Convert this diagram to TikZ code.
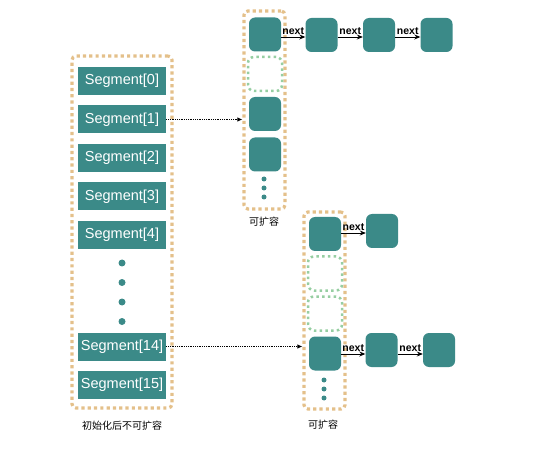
\documentclass[tikz,border=0pt]{standalone}
\usepackage{fontspec}
\setmainfont{Liberation Sans}
\newfontfamily\cjk{Noto Sans CJK SC}
\usetikzlibrary{arrows.meta}
\definecolor{tealc}{RGB}{59,138,136}
\definecolor{tanc}{RGB}{228,192,138}
\definecolor{greenc}{RGB}{150,206,162}
\begin{document}
\begin{tikzpicture}[x=1pt,y=-1pt,
 seg/.style={fill=tealc, text=white, minimum width=88pt, minimum height=28pt, inner sep=0pt, font=\fontsize{14.5}{14.5}\selectfont},
 bkt/.style={fill=tealc, rounded corners=6pt, minimum width=32pt, minimum height=34pt, inner sep=0pt},
 ghost/.style={draw=greenc, line width=2.5pt, dash pattern=on 2.5pt off 3.2pt, rounded corners=6pt, minimum width=34pt, minimum height=34pt, inner sep=0pt},
 outer/.style={draw=tanc, line width=3.2pt, dash pattern=on 3.2pt off 3.1pt, rounded corners=4pt, inner sep=0pt},
 bigdot/.style={circle, fill=tealc, minimum size=7pt, inner sep=0pt},
 smalldot/.style={circle, fill=tealc, minimum size=5pt, inner sep=0pt},
 nxt/.style={-{Stealth[length=6pt,width=5pt]}, line width=0.9pt},
 ptr/.style={densely dotted, line width=0.8pt, -{Latex[length=5pt,width=4.5pt]}},
 lbl/.style={font=\bfseries\fontsize{10.5}{10.5}\selectfont, above, inner sep=1.5pt},
 captext/.style={font=\cjk\fontsize{10}{10}\selectfont}
]
\useasboundingbox (0,0) rectangle (557,457);
% outer boxes
\node[outer, minimum width=100pt, minimum height=352pt] (L) at (122,232) {};
\node[outer, minimum width=41pt, minimum height=198pt] (T) at (264.5,110) {};
\node[outer, minimum width=41pt, minimum height=197pt] (B) at (324.5,310.5) {};
% segments
\node[seg] (s0) at (122,81) {Segment[0]};
\node[seg] (s1) at (122,119.5) {Segment[1]};
\node[seg] (s2) at (122,158) {Segment[2]};
\node[seg] (s3) at (122,196.5) {Segment[3]};
\node[seg] (s4) at (122,235) {Segment[4]};
\node[bigdot] (d1) at (122,263) {};
\node[bigdot] (d2) at (122,282.5) {};
\node[bigdot] (d3) at (122,302) {};
\node[bigdot] (d4) at (122,321.5) {};
\node[seg] (s14) at (122,346.5) {Segment[14]};
\node[seg] (s15) at (122,385) {Segment[15]};
\node[captext] (capL) at (122,426) {初始化后不可扩容};
% top table
\node[bkt] (t1) at (265,34.5) {};
\node[ghost] (t2) at (265,74) {};
\node[bkt] (t3) at (265,114) {};
\node[bkt] (t4) at (265,154.5) {};
\node[smalldot] (td1) at (264,179) {};
\node[smalldot] (td2) at (264,188) {};
\node[smalldot] (td3) at (264,197) {};
\node[captext] (capT) at (264,222) {可扩容};
\node[bkt] (c1) at (321.5,35) {};
\node[bkt] (c2) at (379,35) {};
\node[bkt] (c3) at (436.5,35) {};
\draw[nxt] (t1.east |- 0,37) -- node[lbl]{next} (c1.west |- 0,37);
\draw[nxt] (c1.east |- 0,37) -- node[lbl]{next} (c2.west |- 0,37);
\draw[nxt] (c2.east |- 0,37) -- node[lbl]{next} (c3.west |- 0,37);
% bottom table
\node[bkt] (b1) at (325,234) {};
\node[ghost] (b2) at (325,273.5) {};
\node[ghost] (b3) at (325,313.5) {};
\node[bkt] (b4) at (325,353.5) {};
\node[smalldot] (bd1) at (324,380) {};
\node[smalldot] (bd2) at (324,389) {};
\node[smalldot] (bd3) at (324,398) {};
\node[captext] (capB) at (323,425) {可扩容};
\node[bkt] (e1) at (382,231) {};
\node[bkt] (f1) at (381.5,350) {};
\node[bkt] (f2) at (439,350) {};
\draw[nxt] (b1.east |- 0,233) -- node[lbl]{next} (e1.west |- 0,233);
\draw[nxt] (b4.east |- 0,354) -- node[lbl]{next} (f1.west |- 0,354);
\draw[nxt] (f1.east |- 0,354) -- node[lbl]{next} (f2.west |- 0,354);
% pointers
\draw[ptr] (s1.east) -- (s1.east -| T.west);
\draw[ptr] (s14.east) -- (s14.east -| B.west);
\end{tikzpicture}
\end{document}
